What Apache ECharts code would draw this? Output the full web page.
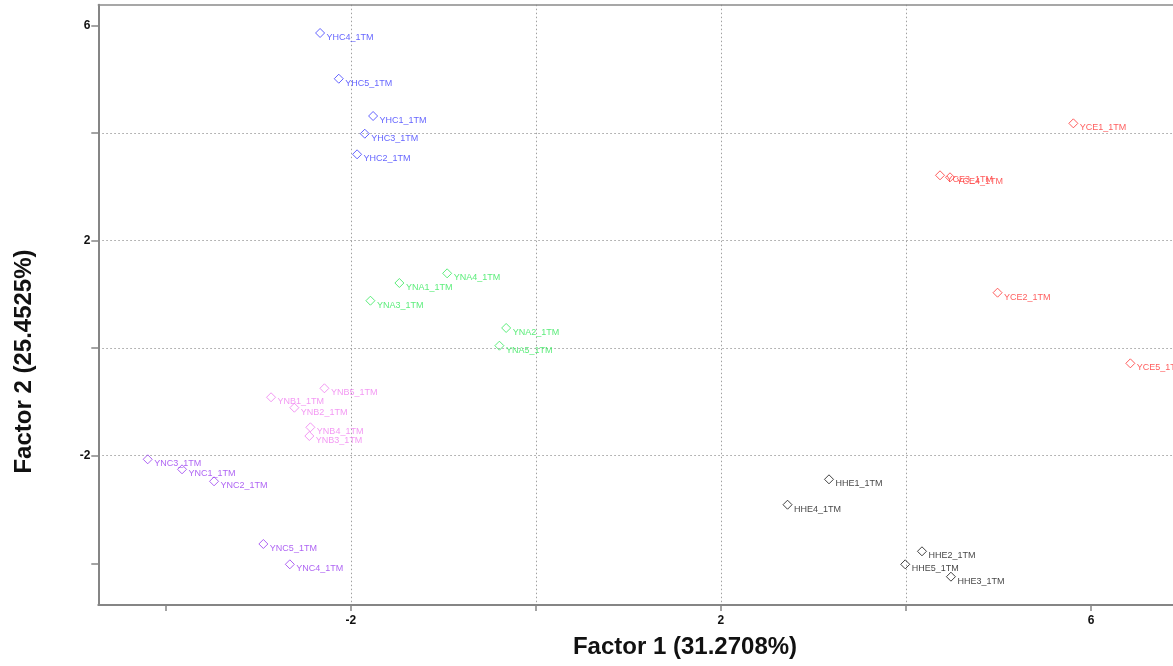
<!DOCTYPE html>
<html>
<head>
<meta charset="utf-8">
<title>Factor plot</title>
<script src="https://cdn.jsdelivr.net/npm/echarts@6/dist/echarts.min.js"></script>
<style>
  html, body { margin: 0; padding: 0; background: #ffffff; }
  #chart { width: 1173px; height: 666px; }
</style>
</head>
<body>
<div id="chart"></div>
<script>
// Sample scores on the first two factors: [factor 1, factor 2, sample name]
const YHC = [
  [-2.332, 5.857, 'YHC4_1TM'],
  [-2.130, 5.007, 'YHC5_1TM'],
  [-1.759, 4.314, 'YHC1_1TM'],
  [-1.849, 3.985, 'YHC3_1TM'],
  [-1.932, 3.602, 'YHC2_1TM']
];
const YCE = [
  [5.809, 4.178, 'YCE1_1TM'],
  [4.368, 3.212, 'YCE3_1TM'],
  [4.476, 3.175, 'YCE4_1TM'],
  [4.990, 1.030, 'YCE2_1TM'],
  [6.425, -0.283, 'YCE5_1TM']
];
const YNA = [
  [-0.959, 1.390, 'YNA4_1TM'],
  [-1.475, 1.210, 'YNA1_1TM'],
  [-1.788, 0.881, 'YNA3_1TM'],
  [-0.321, 0.374, 'YNA2_1TM'],
  [-0.394, 0.045, 'YNA5_1TM']
];
const YNB = [
  [-2.285, -0.747, 'YNB5_1TM'],
  [-2.862, -0.914, 'YNB1_1TM'],
  [-2.610, -1.108, 'YNB2_1TM'],
  [-2.437, -1.472, 'YNB4_1TM'],
  [-2.448, -1.634, 'YNB3_1TM']
];
const YNC = [
  [-4.195, -2.067, 'YNC3_1TM'],
  [-3.824, -2.253, 'YNC1_1TM'],
  [-3.478, -2.476, 'YNC2_1TM'],
  [-2.945, -3.641, 'YNC5_1TM'],
  [-2.659, -4.019, 'YNC4_1TM']
];
const HHE = [
  [3.168, -2.439, 'HHE1_1TM'],
  [2.720, -2.911, 'HHE4_1TM'],
  [4.173, -3.777, 'HHE2_1TM'],
  [3.992, -4.019, 'HHE5_1TM'],
  [4.486, -4.249, 'HHE3_1TM']
];

// Axis ticks and labelled ticks
const tickValues = [-4, -2, 0, 2, 4, 6];
const xLabelValues = [-2, 2, 6];
const yLabelValues = [-2, 2, 6];
const xTitle = 'Factor 1 (31.2708%)';
const yTitle = 'Factor 2 (25.4525%)';

const groups = [
  { name: 'YHC', data: YHC, color: '#3c3cff' },
  { name: 'YCE', data: YCE, color: '#ff3535' },
  { name: 'YNA', data: YNA, color: '#33e85a' },
  { name: 'YNB', data: YNB, color: '#f07ef0' },
  { name: 'YNC', data: YNC, color: '#9a3cf0' },
  { name: 'HHE', data: HHE, color: '#111111' }
];

// Visible window of the plot (the frame runs on past the right edge)
const X_MIN = -4.729, X_MAX = 6.886;
const Y_MIN = -4.775, Y_MAX = 6.383;

const axisLineStyle = { color: '#858585', width: 2 };
const gridLineStyle = { color: '#a0a0a0', width: 1, type: [1.5, 2.5] };

const chart = echarts.init(document.getElementById('chart'), null, { renderer: 'canvas' });

chart.setOption({
  animation: false,
  backgroundColor: '#ffffff',
  grid: {
    left: 98.3,
    top: 4.7,
    height: 600.3,
    right: 0,
    show: false,
    containLabel: false
  },
  xAxis: [
    {
      type: 'value',
      position: 'bottom',
      min: X_MIN,
      max: X_MAX,
      axisLine: { show: true, onZero: false, lineStyle: axisLineStyle },
      axisTick: { show: true, inside: false, length: 6, customValues: tickValues, lineStyle: { color: '#858585', width: 1.5 } },
      axisLabel: {
        customValues: xLabelValues,
        margin: 10,
        fontFamily: 'Liberation Sans',
        fontWeight: 'bold',
        fontSize: 12,
        color: '#111111'
      },
      splitLine: { show: true, showMinLine: false, showMaxLine: false, lineStyle: gridLineStyle }
    },
    {
      // top frame line
      type: 'value',
      position: 'top',
      min: X_MIN,
      max: X_MAX,
      axisLine: { show: true, onZero: false, lineStyle: { color: '#8a8a8a', width: 1.5 } },
      axisTick: { show: false },
      axisLabel: { show: false },
      splitLine: { show: false }
    }
  ],
  yAxis: {
    type: 'value',
    min: Y_MIN,
    max: Y_MAX,
    axisLine: { show: true, onZero: false, lineStyle: axisLineStyle },
    axisTick: { show: true, inside: false, length: 7, customValues: tickValues, lineStyle: { color: '#858585', width: 1.5 } },
    axisLabel: {
      customValues: yLabelValues,
      margin: 8,
      fontFamily: 'Liberation Sans',
      fontWeight: 'bold',
      fontSize: 12,
      color: '#111111'
    },
    splitLine: { show: true, showMinLine: false, showMaxLine: false, lineStyle: gridLineStyle }
  },
  graphic: [
    {
      type: 'text',
      x: 685,
      y: 647,
      style: {
        text: xTitle,
        font: 'bold 24px "Liberation Sans", Arial, sans-serif',
        fill: '#111111',
        textAlign: 'center',
        textVerticalAlign: 'middle'
      }
    },
    {
      type: 'text',
      x: 24,
      y: 361.5,
      rotation: Math.PI / 2,
      style: {
        text: yTitle,
        font: 'bold 24px "Liberation Sans", Arial, sans-serif',
        fill: '#111111',
        textAlign: 'center',
        textVerticalAlign: 'middle'
      }
    }
  ],
  series: groups.map(g => ({
    name: g.name,
    type: 'scatter',
    xAxisIndex: 0,
    data: g.data,
    symbol: 'diamond',
    symbolSize: [9, 9],
    itemStyle: { color: 'rgba(255,255,255,0)', borderColor: g.color, borderWidth: 1 },
    label: {
      show: true,
      formatter: p => p.data[2],
      position: [11.5, 9.5],
      align: 'left',
      verticalAlign: 'middle',
      fontFamily: 'Liberation Sans',
      fontSize: 9,
      color: g.color
    },
    emphasis: { disabled: true }
  }))
});
</script>
</body>
</html>
